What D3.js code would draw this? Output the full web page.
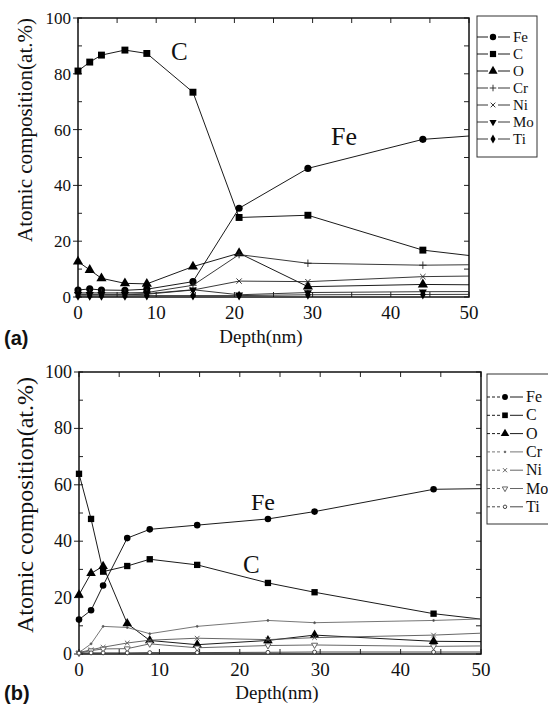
<!DOCTYPE html>
<html>
<head>
<meta charset="utf-8">
<script src="https://cdn.jsdelivr.net/npm/d3@7"></script>
<style>
  body { margin: 0; background: #fff; }
  text { font-family: "Liberation Serif", "Times New Roman", serif; fill: #111; }
  .tag { font-family: "Liberation Sans", Arial, sans-serif; font-weight: bold; }
</style>
</head>
<body>
<script>
// depth profiles, values (last point is past 50 nm and gets clipped)
var depthA = [0, 1.5, 3, 6, 8.8, 14.7, 20.6, 29.4, 44.1, 58.8];
var feA = [2.5, 2.9, 2.5, 2.4, 2.8, 5.5, 31.8, 46.1, 56.5, 59.5];
var cA  = [81, 84.2, 86.7, 88.5, 87.3, 73.4, 28.5, 29.3, 16.8, 12.0];
var oA  = [12.7, 9.7, 6.7, 4.9, 4.7, 10.9, 15.7, 3.7, 4.5, 4.2];
var crA = [1.5, 1.5, 1.5, 1.5, 1.6, 4.2, 15.2, 12.1, 11.4, 11.8];
var niA = [0.8, 0.8, 0.8, 0.8, 1.0, 2.5, 5.7, 5.5, 7.3, 7.8];
var moA = [1.0, 1.0, 1.0, 1.0, 1.2, 2.6, 0.8, 1.6, 1.9, 2.0];
var tiA = [0.4, 0.4, 0.4, 0.4, 0.5, 0.5, 0.5, 0.8, 0.9, 1.0];

var depthB = [0, 1.5, 3, 6, 8.8, 14.7, 23.5, 29.3, 44.1, 58.8];
var feB = [12.2, 15.5, 24.3, 41.1, 44.2, 45.7, 47.9, 50.5, 58.4, 59.0];
var cB  = [63.9, 47.9, 29.2, 31.2, 33.6, 31.6, 25.2, 21.9, 14.3, 9.5];
var oB  = [21, 28.6, 31.1, 10.8, 4.8, 3.3, 4.8, 6.7, 4.5, 4.2];
var crB = [0.5, 3.6, 9.8, 9.4, 7.2, 9.8, 11.9, 11.1, 11.9, 13.2];
var niB = [0.5, 1.5, 2.4, 3.9, 4.9, 5.6, 5.1, 5.8, 6.7, 8.4];
var moB = [0.3, 1.2, 1.8, 1.9, 3.6, 2.2, 3.0, 3.2, 2.7, 3.1];
var tiB = [0.3, 0.4, 0.4, 0.4, 0.5, 0.5, 0.6, 0.7, 0.7, 0.7];

var elements = ["Fe", "C", "O", "Cr", "Ni", "Mo", "Ti"];
var xTicks = [0, 10, 20, 30, 40, 50];
var yTicks = [0, 20, 40, 60, 80, 100];

var svg = d3.select("body").append("svg")
    .attr("width", 548)
    .attr("height", 705);

// marker shapes per element, per panel
var symA = [
    {type: d3.symbolCircle, size: 40, fill: "#000"},
    {type: d3.symbolSquare, size: 48, fill: "#000"},
    {type: d3.symbolTriangle, size: 45, fill: "#000"},
    {type: d3.symbolPlus, size: 20, fill: "none"},
    {type: d3.symbolTimes, size: 20, fill: "none"},
    {type: d3.symbolTriangle, size: 28, fill: "#000", rot: 180},
    {type: d3.symbolDiamond, size: 28, fill: "#000"}
];
var symB = [
    {type: d3.symbolCircle, size: 34, fill: "#000"},
    {type: d3.symbolSquare, size: 40, fill: "#000"},
    {type: d3.symbolTriangle, size: 40, fill: "#000"},
    {type: d3.symbolCircle, size: 3, fill: "#444"},
    {type: d3.symbolTimes, size: 16, fill: "none"},
    {type: d3.symbolTriangle, size: 16, fill: "#fff", rot: 180},
    {type: d3.symbolCircle, size: 12, fill: "#fff"}
];
var colB = ["#000", "#000", "#000", "#666", "#555", "#555", "#333"];

function drawPanel(opt) {
    var x = d3.scaleLinear().domain([0, 50]).range([opt.left, opt.right]);
    var y = d3.scaleLinear().domain([0, 100]).range([opt.bottom, opt.top]);
    var g = svg.append("g");

    g.append("clipPath").attr("id", opt.id + "clip")
        .append("rect")
        .attr("x", opt.left).attr("y", opt.top - 5)
        .attr("width", opt.right - opt.left).attr("height", opt.bottom - opt.top + 10);

    // ticks
    var ax = g.append("g").attr("stroke", "#222").attr("stroke-width", 1);
    d3.range(0, 51, 5).forEach(function(t) {
        ax.append("line").attr("x1", x(t)).attr("x2", x(t)).attr("y1", opt.bottom).attr("y2", opt.bottom - 5);
        ax.append("line").attr("x1", x(t)).attr("x2", x(t)).attr("y1", opt.top).attr("y2", opt.top + 5);
    });
    d3.range(0, 101, 10).forEach(function(t) {
        ax.append("line").attr("x1", opt.left).attr("x2", opt.left + 4).attr("y1", y(t)).attr("y2", y(t));
        ax.append("line").attr("x1", opt.right).attr("x2", opt.right - 5).attr("y1", y(t)).attr("y2", y(t));
    });
    yTicks.forEach(function(t) {
        ax.append("line").attr("x1", opt.left - 5).attr("x2", opt.left).attr("y1", y(t)).attr("y2", y(t));
    });

    g.append("rect")
        .attr("x", opt.left).attr("y", opt.top)
        .attr("width", opt.right - opt.left).attr("height", opt.bottom - opt.top)
        .attr("fill", "none").attr("stroke", "#111").attr("stroke-width", 1.5);

    g.selectAll(".yt").data(yTicks).enter().append("text")
        .attr("x", opt.left - 7).attr("y", function(d) { return y(d) + 6; })
        .attr("text-anchor", "end").attr("font-size", opt.tickSize)
        .text(function(d) { return d; });
    g.selectAll(".xt").data(xTicks).enter().append("text")
        .attr("x", function(d) { return x(d); }).attr("y", opt.bottom + 22)
        .attr("text-anchor", "middle").attr("font-size", 19)
        .text(function(d) { return d; });

    g.append("text")
        .attr("transform", "translate(" + opt.ylabX + "," + opt.ylabY + ") rotate(-90)")
        .attr("text-anchor", "middle").attr("font-size", opt.ylabSize)
        .text("Atomic composition(at.%)");
    g.append("text")
        .attr("x", opt.xlabX).attr("y", opt.xlabY)
        .attr("text-anchor", "middle").attr("font-size", 19)
        .text("Depth(nm)");
    g.append("text").attr("class", "tag")
        .attr("x", 4).attr("y", opt.tagY).attr("font-size", 20)
        .text(opt.tag);

    // series
    var line = d3.line()
        .x(function(d) { return x(d[0]); })
        .y(function(d) { return y(d[1]); });

    opt.series.forEach(function(vals, i) {
        var pts = opt.depth.map(function(d, k) { return [d, vals[k]]; });
        var col = opt.colors[i];
        g.append("path")
            .datum(pts)
            .attr("clip-path", "url(#" + opt.id + "clip)")
            .attr("d", line)
            .attr("fill", "none")
            .attr("stroke", col)
            .attr("stroke-width", 0.9);

        var s = opt.syms[i];
        g.selectAll(".m" + i)
            .data(pts.filter(function(p) { return p[0] <= 50; }))
            .enter().append("path")
            .attr("transform", function(p) {
                return "translate(" + x(p[0]) + "," + y(p[1]) + ")" + (s.rot ? " rotate(" + s.rot + ")" : "");
            })
            .attr("d", d3.symbol().type(s.type).size(s.size))
            .attr("fill", s.fill)
            .attr("stroke", s.fill === "#000" ? "none" : col)
            .attr("stroke-width", 0.9);
    });

    // legend
    var lg = opt.legend;
    g.append("rect")
        .attr("x", lg.x).attr("y", lg.y).attr("width", lg.w).attr("height", lg.h)
        .attr("fill", "#fff").attr("stroke", "#333").attr("stroke-width", 1);
    elements.forEach(function(name, i) {
        var yy = lg.y0 + i * lg.step;
        var col = opt.colors[i];
        var s = opt.syms[i];
        g.append("line").attr("x1", lg.x).attr("x2", lg.mx - 5).attr("y1", yy).attr("y2", yy)
            .attr("stroke", col).attr("stroke-width", 0.9)
            .attr("stroke-dasharray", lg.dash || null);
        g.append("line").attr("x1", lg.mx + 5).attr("x2", lg.tx - 3).attr("y1", yy).attr("y2", yy)
            .attr("stroke", col).attr("stroke-width", 0.9);
        g.append("path")
            .attr("transform", "translate(" + lg.mx + "," + yy + ")" + (s.rot ? " rotate(" + s.rot + ")" : ""))
            .attr("d", d3.symbol().type(s.type).size(s.size * 0.8))
            .attr("fill", s.fill)
            .attr("stroke", s.fill === "#000" ? "none" : col)
            .attr("stroke-width", 0.9);
        g.append("text").attr("x", lg.tx).attr("y", yy + 5)
            .attr("font-size", lg.font).text(name);
    });

    opt.notes.forEach(function(n) {
        g.append("text").attr("x", n.x).attr("y", n.y)
            .attr("font-size", n.size).text(n.text);
    });
}

drawPanel({
    id: "a", left: 78, right: 469, top: 18, bottom: 297,
    depth: depthA,
    series: [feA, cA, oA, crA, niA, moA, tiA],
    syms: symA,
    colors: ["#000", "#000", "#000", "#222", "#222", "#222", "#222"],
    tickSize: 17,
    ylabX: 32, ylabY: 130, ylabSize: 21,
    xlabX: 261, xlabY: 343, tag: "(a)", tagY: 345,
    legend: {x: 477, y: 16, w: 60, h: 141, y0: 37, step: 17, mx: 493, tx: 513, font: 15},
    notes: [{text: "C", x: 171, y: 60, size: 25}, {text: "Fe", x: 331, y: 145, size: 26}]
});

drawPanel({
    id: "b", left: 79, right: 481, top: 372, bottom: 654,
    depth: depthB,
    series: [feB, cB, oB, crB, niB, moB, tiB],
    syms: symB,
    colors: colB,
    tickSize: 18,
    ylabX: 33, ylabY: 505, ylabSize: 24,
    xlabX: 277, xlabY: 699, tag: "(b)", tagY: 700,
    legend: {x: 487, y: 374, w: 70, h: 150, y0: 397, step: 18.3, mx: 505, tx: 526, font: 16, dash: "3,2"},
    notes: [{text: "Fe", x: 251, y: 510, size: 24}, {text: "C", x: 243, y: 573, size: 25}]
});
</script>
</body>
</html>
